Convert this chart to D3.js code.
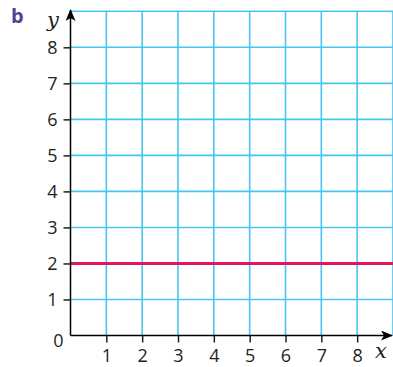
<!DOCTYPE html>
<html>
<head>
    <meta charset="utf-8" />
    <style>
        body { margin: 0; background: #fff; }
        text.tick-label {
            font-family: "Open Sans", sans-serif;
            font-size: 18px;
            fill: #231f20;
        }
        text.var {
            font-family: "DejaVu Serif", "Liberation Serif", serif;
            font-style: italic;
            font-size: 21px;
            fill: #231f20;
        }
        line.grid {
            stroke: #47c4f2;
            stroke-width: 1.6;
        }
    </style>
    <script src="https://d3js.org/d3.v7.min.js"></script>
</head>
<body>
<script>

// chart values
let xTicks = [1, 2, 3, 4, 5, 6, 7, 8];
let yTicks = [1, 2, 3, 4, 5, 6, 7, 8];
let gridX = [1, 2, 3, 4, 5, 6, 7, 8, 9];
let gridY = [1, 2, 3, 4, 5, 6, 7, 8, 9];
let lineY = [2];          // the horizontal line y = 2
let lineX = [0, 9];       // drawn across the whole grid

let realW = 393,
    realH = 367;

let xScale = d3.scaleLinear().domain([0, 9]).range([70.5, 393]);
let yScale = d3.scaleLinear().domain([0, 9]).range([335.5, 11.3]);

let svg = d3.select("body")
    .append("svg")
    .attr("width", realW)
    .attr("height", realH);

// grid
svg.selectAll("line.gx")
    .data(gridX)
    .enter()
    .append("line")
    .attr("class", "grid")
    .attr("x1", d => xScale(d))
    .attr("x2", d => xScale(d))
    .attr("y1", yScale(0))
    .attr("y2", yScale(9));

svg.selectAll("line.gy")
    .data(gridY)
    .enter()
    .append("line")
    .attr("class", "grid")
    .attr("x1", xScale(0))
    .attr("x2", xScale(9))
    .attr("y1", d => yScale(d))
    .attr("y2", d => yScale(d));

// the line y = 2
let line = d3.line()
    .x(d => xScale(d))
    .y(() => yScale(lineY[0]));

svg.append("path")
    .datum(lineX)
    .attr("d", line)
    .attr("fill", "none")
    .attr("stroke", "#e0195a")
    .attr("stroke-width", 3);

// arrowheads
let defs = svg.append("defs");
defs.append("marker")
    .attr("id", "arrow")
    .attr("viewBox", "0 0 12 10")
    .attr("refX", 11)
    .attr("refY", 5)
    .attr("markerWidth", 12)
    .attr("markerHeight", 10)
    .attr("markerUnits", "userSpaceOnUse")
    .attr("orient", "auto")
    .append("path")
    .attr("d", "M0,0 L12,5 L0,10 L3,5 Z")
    .attr("fill", "#000");

// x axis
let xAxis = d3.axisBottom(xScale)
    .tickValues(xTicks)
    .tickSize(7)
    .tickPadding(7)
    .tickSizeOuter(0);

let gx = svg.append("g")
    .attr("transform", "translate(0," + yScale(0) + ")")
    .call(xAxis);
gx.select(".domain").remove();
gx.selectAll(".tick line").attr("stroke", "#231f20").attr("stroke-width", 1.5);
gx.selectAll(".tick text")
    .attr("class", "tick-label")
    .attr("font-size", null)
    .attr("font-family", null);

// y axis
let yAxis = d3.axisLeft(yScale)
    .tickValues(yTicks)
    .tickSize(7)
    .tickPadding(6)
    .tickSizeOuter(0);

let gy = svg.append("g")
    .attr("transform", "translate(" + xScale(0) + ",0)")
    .call(yAxis);
gy.select(".domain").remove();
gy.selectAll(".tick line").attr("stroke", "#231f20").attr("stroke-width", 1.5);
gy.selectAll(".tick text")
    .attr("class", "tick-label")
    .attr("font-size", null)
    .attr("font-family", null);

// axis lines with arrows
svg.append("line")
    .attr("x1", xScale(0))
    .attr("x2", 392)
    .attr("y1", yScale(0))
    .attr("y2", yScale(0))
    .attr("stroke", "#000")
    .attr("stroke-width", 1.5)
    .attr("marker-end", "url(#arrow)");

svg.append("line")
    .attr("x1", xScale(0))
    .attr("x2", xScale(0))
    .attr("y1", yScale(0))
    .attr("y2", 10)
    .attr("stroke", "#000")
    .attr("stroke-width", 1.5)
    .attr("marker-end", "url(#arrow)");

// origin label
svg.append("text")
    .attr("class", "tick-label")
    .attr("x", xScale(0) - 7)
    .attr("y", yScale(0) + 6)
    .attr("dy", "0.32em")
    .attr("text-anchor", "end")
    .text("0");

// axis names
svg.append("text")
    .attr("class", "var")
    .attr("x", 53)
    .attr("y", 27)
    .attr("text-anchor", "middle")
    .text("y");

svg.append("text")
    .attr("class", "var")
    .attr("x", 381)
    .attr("y", 358)
    .attr("text-anchor", "middle")
    .text("x");

// part letter
svg.append("text")
    .attr("x", 11)
    .attr("y", 23)
    .attr("font-family", "Open Sans, sans-serif")
    .attr("font-weight", "bold")
    .attr("font-size", 20)
    .attr("fill", "#5a3e96")
    .text("b");

</script>
</body>
</html>
